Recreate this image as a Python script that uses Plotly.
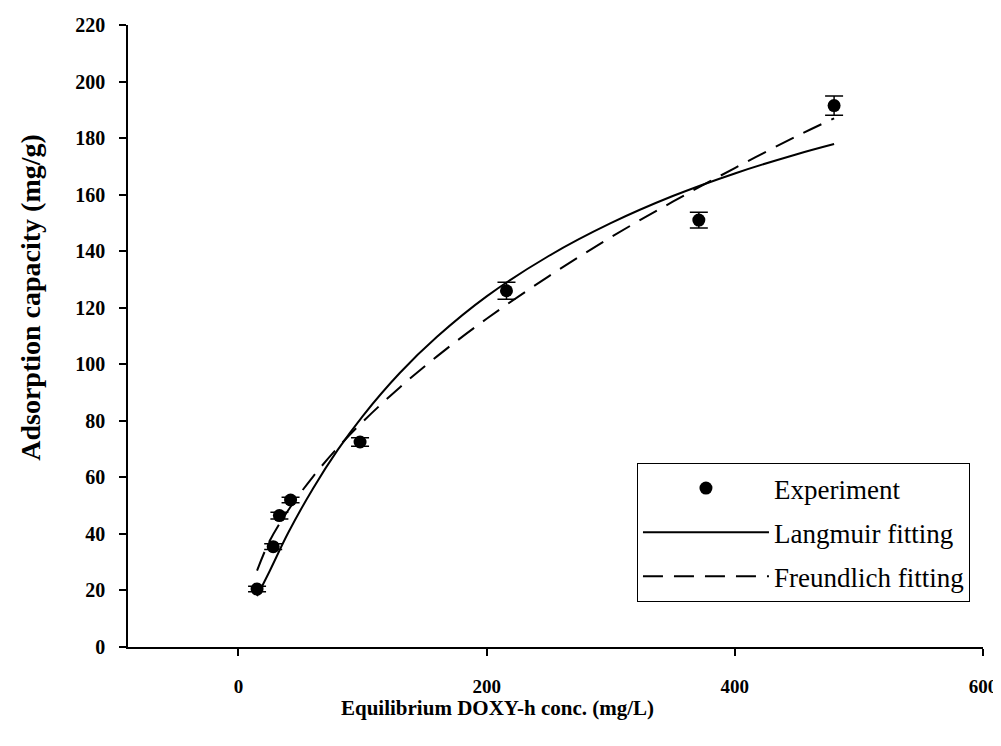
import plotly.graph_objects as go

# Experimental data
exp_x = [15, 28, 33, 42, 98, 216, 371, 480]
exp_y = [20.5, 35.5, 46.5, 52, 72.5, 126, 151, 191.5]
exp_err = [1.0, 1.0, 1.2, 1.0, 1.5, 3.0, 2.8, 3.4]

# Fitted curves
fit_x = [15, 25, 40, 60, 80, 100, 130, 160, 200, 250, 300, 350, 400, 450, 480]
lang_y = [18, 26.7, 40.3, 56.0, 69.7, 81.6, 96.9, 109.7, 124.0, 138.3, 149.9, 159.5, 167.5, 174.3, 177.9]
freu_y = [27, 37.4, 48.3, 60.2, 70.5, 79.6, 91.8, 102.8, 116.1, 131.1, 144.9, 157.5, 169.4, 180.7, 187]

x_ticks = [0, 200, 400, 600]
y_ticks = [0, 20, 40, 60, 80, 100, 120, 140, 160, 180, 200, 220]

serif = "Liberation Serif, Times New Roman, serif"

fig = go.Figure()
fig.add_trace(go.Scatter(
    x=exp_x, y=exp_y, mode="markers", name="Experiment",
    marker=dict(color="black", size=13),
    error_y=dict(type="data", array=exp_err, color="black", thickness=1.5, width=9),
    legendgroup="a",
))
fig.add_trace(go.Scatter(
    x=fit_x, y=lang_y, mode="lines", name="Langmuir fitting",
    line=dict(color="black", width=2, shape="spline"),
    legendgroup="b",
))
fig.add_trace(go.Scatter(
    x=fit_x, y=freu_y, mode="lines", name="Freundlich fitting",
    line=dict(color="black", width=2, dash="20px,11px", shape="spline"),
    legendgroup="c",
))

fig.update_layout(
    width=993, height=730,
    margin=dict(l=120, r=18, t=17, b=91, autoexpand=False),
    paper_bgcolor="white", plot_bgcolor="white",
    font=dict(family=serif, color="black"),
    showlegend=True,
    legend=dict(
        xref="container", yref="container",
        x=0.6334, y=1 - 455 / 730, xanchor="left", yanchor="top",
        bordercolor="black", borderwidth=1, bgcolor="white",
        font=dict(family=serif, size=27, color="black"),
        traceorder="grouped", tracegroupgap=6, itemwidth=126,
    ),
    xaxis=dict(
        range=[-89, 600], tickvals=x_ticks, showgrid=False, zeroline=False,
        showline=True, linecolor="black", linewidth=1.5, automargin=False,
        ticks="outside", ticklen=7, tickwidth=1.5, tickcolor="black",
        tickfont=dict(family=serif, size=19, color="black", weight="bold"),
        ticklabelstandoff=14,
    ),
    yaxis=dict(
        range=[0, 220], tickvals=y_ticks, showgrid=False, zeroline=False,
        showline=True, linecolor="black", linewidth=1.5, automargin=False,
        ticks="outside", ticklen=7, tickwidth=1.5, tickcolor="black",
        tickfont=dict(family=serif, size=20, color="black", weight="bold"),
        ticklabelstandoff=10,
    ),
    annotations=[
        dict(text="<b>Equilibrium DOXY-h conc. (mg/L)</b>", xref="paper", yref="paper",
             x=0.4316, y=-0.098, xanchor="center", yanchor="middle", showarrow=False,
             font=dict(family=serif, size=21, color="black")),
        dict(text="<b>Adsorption capacity (mg/g)</b>", xref="paper", yref="paper",
             x=-0.1135, y=0.563, xanchor="center", yanchor="middle", showarrow=False,
             textangle=-90, font=dict(family=serif, size=28, color="black")),
    ],
)

fig.write_html("out.html")
